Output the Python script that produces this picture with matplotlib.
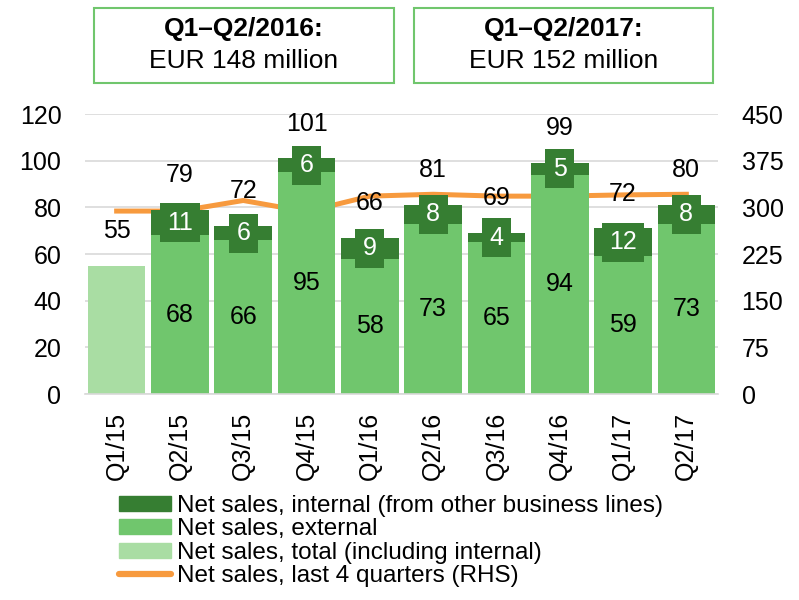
import numpy as np
import matplotlib.pyplot as plt
from matplotlib.patches import Rectangle, Patch
from matplotlib.lines import Line2D

plt.rcParams['font.family'] = ['Liberation Sans', 'DejaVu Sans']

quarters = ['Q1/15', 'Q2/15', 'Q3/15', 'Q4/15', 'Q1/16', 'Q2/16', 'Q3/16', 'Q4/16', 'Q1/17', 'Q2/17']
external = [0, 68, 66, 95, 58, 73, 65, 94, 59, 73]
internal = [0, 11, 6, 6, 9, 8, 4, 5, 12, 8]
total_only = [55, 0, 0, 0, 0, 0, 0, 0, 0, 0]
totals = [55, 79, 72, 101, 66, 81, 69, 99, 72, 80]
last4q = [294, 294, 311, 293, 318, 321, 318, 318, 320, 321]

c_int = '#367E32'
c_ext = '#70C66D'
c_tot = '#A9DDA3'
c_line = '#F79A3E'
fs = 18

fig = plt.figure(figsize=(7.99, 6), dpi=100)
ax = fig.add_axes([85/799, 1-394/600, (718-85)/799, (394-114)/600])
ax2 = ax.twinx()

x = np.arange(len(quarters))
w = 0.91
ax.bar(x, total_only, w, color=c_tot, zorder=2)
ax.bar(x, external, w, color=c_ext, zorder=2)
ax.bar(x, internal, w, bottom=external, color=c_int, zorder=2)

for i in range(len(x)):
    if external[i] > 0:
        ax.text(x[i], external[i] / 2, str(external[i]), ha='center', va='center',
                fontsize=fs, zorder=5)
        ax.text(x[i], external[i] + internal[i] / 2, str(internal[i]), ha='center',
                va='center', fontsize=fs, color='white', zorder=5,
                bbox=dict(boxstyle='square,pad=0.3', fc=c_int, ec='none'))
    top = external[i] + internal[i] + total_only[i]
    ax.annotate(str(totals[i]), (x[i], top), xytext=(0, 25), textcoords='offset points',
                ha='center', va='center', fontsize=fs, zorder=5)

# RHS line sits behind the bars, grid drawn on the RHS axes (75 <-> 20)
ax2.plot(x, last4q, color=c_line, lw=3.6, zorder=3)
ax2.grid(axis='y', color='#D9D9D9', lw=1.2, zorder=0)
ax2.set_axisbelow(True)

ax.set_ylim(0, 120)
ax.set_yticks(range(0, 121, 20))
ax2.set_ylim(0, 450)
ax2.set_yticks(range(0, 451, 75))
ax.set_xlim(-0.5, len(x) - 0.5)
ax.set_xticks(x)
ax.set_xticklabels(quarters, rotation=90, fontsize=fs)
ax.tick_params(axis='y', labelsize=fs, length=0, pad=17)
ax2.tick_params(axis='y', labelsize=fs, length=0, pad=17)
ax.tick_params(axis='x', length=0, pad=13)
for a in (ax, ax2):
    for s in a.spines.values():
        s.set_visible(False)
ax.spines['bottom'].set_visible(True)
ax.spines['bottom'].set_color('#D9D9D9')
ax.spines['bottom'].set_linewidth(1.2)
ax.set_zorder(ax2.get_zorder() + 1)
ax.patch.set_visible(False)

# summary boxes
boxes = [(94, 394, 'Q1\u2013Q2/2016:', 'EUR 148 million'),
         (414, 713, 'Q1\u2013Q2/2017:', 'EUR 152 million')]
for x0, x1, head, val in boxes:
    fig.add_artist(Rectangle((x0/799, 1-83/600), (x1-x0)/799, 75/600,
                             transform=fig.transFigure, fill=False, ec=c_ext, lw=1.5))
    xc = (x0 + x1) / 2 / 799
    fig.text(xc, 1-29/600, head, ha='center', va='center', fontsize=19, fontweight='bold')
    fig.text(xc, 1-61/600, val, ha='center', va='center', fontsize=19)

handles = [Patch(color=c_int), Patch(color=c_ext), Patch(color=c_tot),
           Line2D([0], [0], color=c_line, lw=4.5, solid_capstyle='round')]
labels = ['Net sales, internal (from other business lines)', 'Net sales, external',
          'Net sales, total (including internal)', 'Net sales, last 4 quarters (RHS)']
fig.legend(handles, labels, loc='upper left', bbox_to_anchor=(119/799, 1-495/600),
           frameon=False, fontsize=17.5, handlelength=2.15, handleheight=0.58,
           handletextpad=0.25, labelspacing=0.06, borderpad=0, borderaxespad=0)

fig.savefig('out.png', dpi=100)
